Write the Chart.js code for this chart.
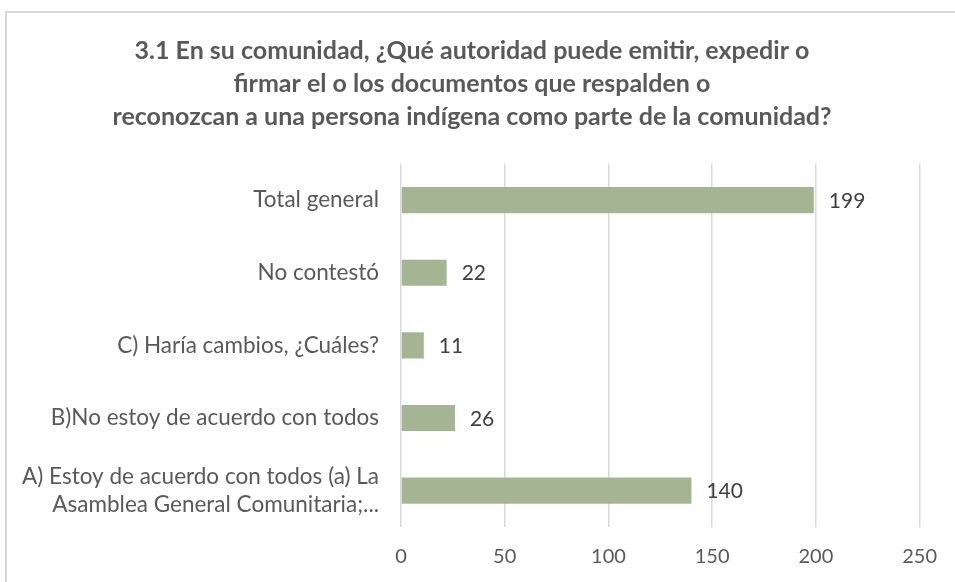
<!DOCTYPE html>
<html><head><meta charset="utf-8">
<script src="https://cdn.jsdelivr.net/npm/chart.js@4"></script>
<style>
html,body{margin:0;padding:0;background:#fff;overflow:hidden;width:955px;height:582px;}
#frame{position:absolute;left:5px;top:11px;width:1200px;height:900px;border:2px solid #d9d9d9;box-sizing:border-box;}
#wrap{position:absolute;left:0;top:0;width:955px;height:582px;}
</style></head>
<body>
<div id="frame"></div>
<div id="wrap"><canvas id="c" width="955" height="582"></canvas></div>
<script>
const titleLines = [
  "3.1 En su comunidad, ¿Qué autoridad puede emitir, expedir o",
  "firmar el o los documentos que respalden o",
  "reconozcan a una persona indígena como parte de la comunidad?"
];
const categories = [
  "Total general",
  "No contestó",
  "C) Haría cambios, ¿Cuáles?",
  "B)No estoy de acuerdo con todos",
  ["A) Estoy de acuerdo con todos (a) La", "Asamblea General Comunitaria;..."]
];
const values = [199, 22, 11, 26, 140];
const xTicks = [0, 50, 100, 150, 200, 250];

const FONT = "Lato, 'Open Sans', sans-serif";

const valueLabels = {
  id: 'valueLabels',
  afterDatasetsDraw(chart) {
    const ctx = chart.ctx;
    const meta = chart.getDatasetMeta(0);
    ctx.save();
    ctx.font = "21px " + FONT;
    ctx.fillStyle = "#404040";
    ctx.textAlign = "left";
    ctx.textBaseline = "middle";
    meta.data.forEach((bar, i) => {
      ctx.fillText(String(values[i]), bar.x + 15, bar.y + 1);
    });
    ctx.restore();
  }
};

new Chart(document.getElementById('c'), {
  type: 'bar',
  data: {
    labels: categories,
    datasets: [{
      data: values,
      backgroundColor: '#a5b593',
      borderWidth: 0,
      categoryPercentage: 1,
      barPercentage: 0.36
    }]
  },
  options: {
    indexAxis: 'y',
    responsive: false,
    animation: false,
    devicePixelRatio: 1,
    layout: { padding: { left: 20, right: 31, top: 0, bottom: 13 } },
    plugins: {
      legend: { display: false },
      tooltip: { enabled: false },
      title: {
        display: true,
        text: titleLines,
        color: '#595959',
        font: { family: FONT, size: 25, weight: 'bold', lineHeight: 1.33 },
        padding: { top: 34, bottom: 30 }
      }
    },
    scales: {
      x: {
        min: 0, max: 250,
        afterBuildTicks(scale) { scale.ticks = xTicks.map(v => ({ value: v })); },
        afterFit(scale) { scale.height = 42; },
        grid: { color: '#d9d9d9', lineWidth: 1.5, drawTicks: false },
        border: { display: false },
        ticks: { color: '#595959', font: { family: FONT, size: 20 }, padding: 18 }
      },
      y: {
        afterFit(scale) { scale.width = 381; },
        grid: { display: false, drawTicks: false },
        border: { display: false },
        ticks: { color: '#595959', font: { family: FONT, size: 22.5, lineHeight: 1.25 }, padding: 22 }
      }
    }
  },
  plugins: [valueLabels]
});
</script>
</body></html>
